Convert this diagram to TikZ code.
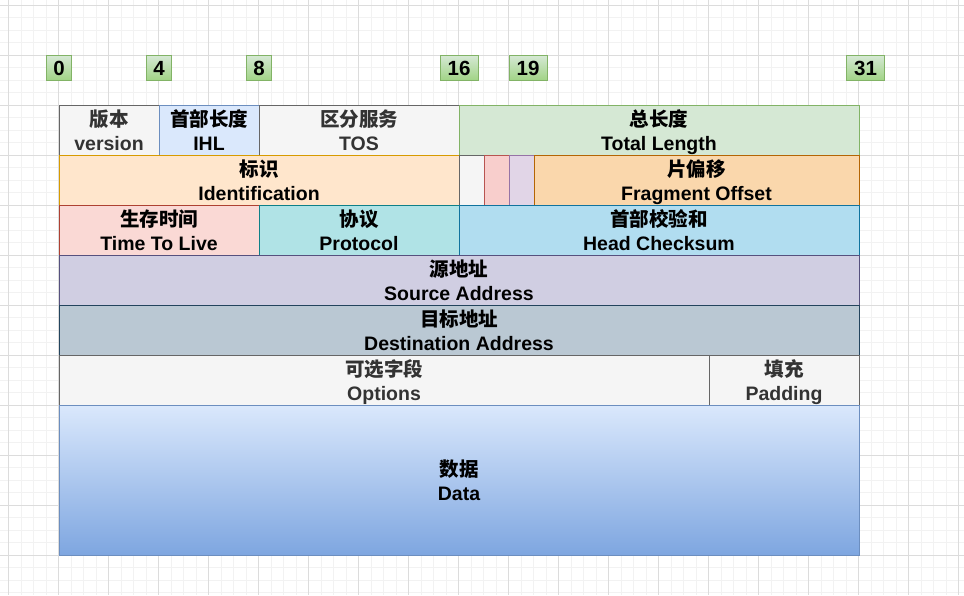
\documentclass[tikz,border=0pt]{standalone}
\usepackage{fontspec}
\setmainfont{Liberation Sans}
\newfontfamily\cjk{Noto Sans CJK SC}
\definecolor{gminor}{HTML}{F2F2F2}
\definecolor{gmajor}{HTML}{DCDCDC}
\definecolor{tgrey}{HTML}{333333}
\definecolor{cF5}{HTML}{F5F5F5}
\definecolor{c666}{HTML}{666666}
\definecolor{cBlueF}{HTML}{DAE8FC}
\definecolor{cBlueD}{HTML}{6C8EBF}
\definecolor{cGreenF}{HTML}{D5E8D4}
\definecolor{cGreenD}{HTML}{82B366}
\definecolor{cGreenB}{HTML}{97D077}
\definecolor{cOrF}{HTML}{FFE6CC}
\definecolor{cOrD}{HTML}{D79B00}
\definecolor{cRedF}{HTML}{F8CECC}
\definecolor{cRedD}{HTML}{B85450}
\definecolor{cPurF}{HTML}{E1D5E7}
\definecolor{cPurD}{HTML}{9673A6}
\definecolor{cFoF}{HTML}{FAD7AC}
\definecolor{cFoD}{HTML}{B46504}
\definecolor{cTtlF}{HTML}{FAD9D5}
\definecolor{cTtlD}{HTML}{AE4132}
\definecolor{cPrF}{HTML}{B0E3E6}
\definecolor{cPrD}{HTML}{0E8088}
\definecolor{cCkF}{HTML}{B1DDF0}
\definecolor{cCkD}{HTML}{10739E}
\definecolor{cSrF}{HTML}{D0CEE2}
\definecolor{cSrD}{HTML}{56517E}
\definecolor{cDsF}{HTML}{BAC8D3}
\definecolor{cDsD}{HTML}{23445D}
\definecolor{cDaB}{HTML}{7EA6E0}
\newcommand\twol[2]{{\cjk #1}\\#2}
\begin{document}
\begin{tikzpicture}[x=1pt,y=-1pt,
  cell/.style={rectangle, line width=1pt, align=center, inner sep=0pt,
    minimum height=50pt, text=black, text depth=-1pt,
    font=\bfseries\fontsize{19.5}{23.4}\selectfont},
  greycell/.style={cell, fill=cF5, draw=c666, text=tgrey},
  bitlbl/.style={rectangle, line width=1pt, draw=cGreenD, top color=cGreenF,
    bottom color=cGreenB!85!cGreenF, minimum height=25pt, inner sep=0pt,
    font=\bfseries\fontsize{20.5}{24}\selectfont},
  minorline/.style={draw=gminor, line width=1pt},
  majorline/.style={draw=gmajor, line width=1pt}]
\useasboundingbox (0,0) rectangle (964,595);
\fill[white] (0,0) rectangle (964,595);
% grid
\foreach \m in {0,...,76} \path[minorline] ({8.5+12.5*\m},0) -- ({8.5+12.5*\m},595);
\foreach \m in {0,...,47} \path[minorline] (0,{5+12.5*\m}) -- (964,{5+12.5*\m});
\foreach \m in {0,...,19} \path[majorline] ({8.5+50*\m},0) -- ({8.5+50*\m},595);
\foreach \m in {0,...,11} \path[majorline] (0,{5+50*\m}) -- (964,{5+50*\m});
% bit labels
\node[bitlbl, minimum width=25pt] (b0) at (59,68) {0};
\node[bitlbl, minimum width=25pt] (b4) at (159,68) {4};
\node[bitlbl, minimum width=25pt] (b8) at (259,68) {8};
\node[bitlbl, minimum width=38pt] (b16) at (459,68) {16};
\node[bitlbl, minimum width=38pt] (b19) at (528,68) {19};
\node[bitlbl, minimum width=38pt] (b31) at (865.5,68) {31};
% row 1
\node[greycell, minimum width=100pt] (ver) at (109,130) {\twol{版本}{version}};
\node[cell, fill=cBlueF, draw=cBlueD, minimum width=100pt] (ihl) at (209,130) {\twol{首部长度}{IHL}};
\node[greycell, minimum width=200pt] (tos) at (359,130) {\twol{区分服务}{TOS}};
\node[cell, fill=cGreenF, draw=cGreenD, minimum width=400pt] (tl) at (659,130) {\twol{总长度}{Total Length}};
% row 2
\node[cell, fill=cOrF, draw=cOrD, minimum width=400pt] (id) at (259,180) {\twol{标识}{Identification}};
\node[greycell, minimum width=25pt] (f1) at (471.5,180) {};
\node[cell, fill=cRedF, draw=cRedD, minimum width=25pt] (f2) at (496.5,180) {};
\node[cell, fill=cPurF, draw=cPurD, minimum width=25pt] (f3) at (521.5,180) {};
\node[cell, fill=cFoF, draw=cFoD, minimum width=325pt] (fo) at (696.5,180) {\twol{片偏移}{Fragment Offset}};
% row 3
\node[cell, fill=cTtlF, draw=cTtlD, minimum width=200pt] (ttl) at (159,230) {\twol{生存时间}{Time To Live}};
\node[cell, fill=cPrF, draw=cPrD, minimum width=200pt] (pr) at (359,230) {\twol{协议}{Protocol}};
\node[cell, fill=cCkF, draw=cCkD, minimum width=400pt] (ck) at (659,230) {\twol{首部校验和}{Head Checksum}};
% rows 4-5
\node[cell, fill=cSrF, draw=cSrD, minimum width=800pt] (src) at (459,280) {\twol{源地址}{Source Address}};
\node[cell, fill=cDsF, draw=cDsD, minimum width=800pt] (dst) at (459,330) {\twol{目标地址}{Destination Address}};
% row 6
\node[greycell, minimum width=650pt] (opt) at (384,380) {\twol{可选字段}{Options}};
\node[greycell, minimum width=150pt] (pad) at (784,380) {\twol{填充}{Padding}};
% data
\node[cell, top color=cBlueF, bottom color=cDaB, draw=cBlueD, minimum width=800pt, minimum height=150pt] (data) at (459,480) {\twol{数据}{Data}};
\end{tikzpicture}
\end{document}
